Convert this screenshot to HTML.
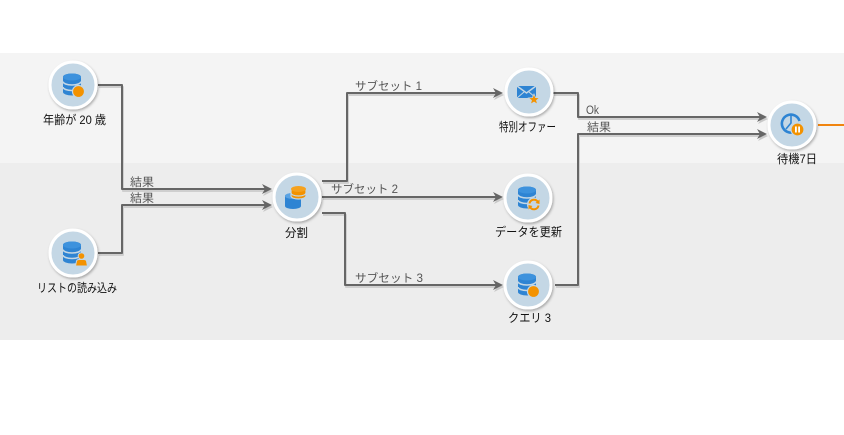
<!DOCTYPE html>
<html><head><meta charset="utf-8">
<style>
html,body{margin:0;padding:0;background:#fff;}
body{width:844px;height:435px;overflow:hidden;}
svg{display:block;}
text{font-family:"Liberation Sans","Noto Sans CJK JP",sans-serif;}
.nl{font-size:12px;fill:#111;}
.cl{font-size:11.5px;fill:#555;}
</style></head>
<body>
<svg width="844" height="435" viewBox="0 0 844 435" xmlns="http://www.w3.org/2000/svg">
<defs>
<filter id="sh" x="-30%" y="-30%" width="160%" height="160%">
<feDropShadow dx="1" dy="1.5" stdDeviation="1.2" flood-color="#000" flood-opacity="0.3"/>
</filter>
<g id="node">
<circle r="23" fill="#c4d7e5" stroke="#fff" stroke-width="3" filter="url(#sh)"/>
</g>
<g id="db">
<path d="M-10,-8 A9,3.5 0 0 1 8,-8 L8,7 A9,3.5 0 0 1 -10,7 Z" fill="#2e84d3"/>
<ellipse cx="-1" cy="-8" rx="9" ry="3.5" fill="#3d92dd"/>
<path d="M-10,-3.5 A9,3.5 0 0 0 8,-3.5" fill="none" stroke="#c4d7e5" stroke-width="1.6"/>
<path d="M-10,2 A9,3.5 0 0 0 8,2" fill="none" stroke="#c4d7e5" stroke-width="1.6"/>
</g>
<g id="arr">
<polygon points="0,0 -10,-5 -7,0 -10,5" fill="#666"/>
</g>
<g id="arrs">
<polygon points="0,0 -10,-5 -7,0 -10,5" fill="#c8c8c8"/>
</g>
</defs>

<!-- bands -->
<rect x="0" y="53" width="844" height="110" fill="#f4f4f4"/>
<rect x="0" y="163" width="844" height="177" fill="#ededed"/>

<!-- connector shadows -->
<g fill="none" stroke="#cfcfcf" stroke-width="2" transform="translate(1,2)" stroke-linejoin="round">
<path d="M98,85 H122 V189 H265"/>
<path d="M98,253 H122 V205 H265"/>
<path d="M322,181 H347 V93 H496"/>
<path d="M322,197 H496"/>
<path d="M322,213 H345 V285 H496"/>
<path d="M553,93 H578 V117 H760"/>
<path d="M555,285 H578 V134 H760"/>
</g>
<use href="#arrs" x="273" y="191"/>
<use href="#arrs" x="273" y="207"/>
<use href="#arrs" x="504" y="95"/>
<use href="#arrs" x="504" y="199"/>
<use href="#arrs" x="504" y="287"/>
<use href="#arrs" x="768" y="119"/>
<use href="#arrs" x="768" y="136"/>

<!-- connectors -->
<g fill="none" stroke="#666" stroke-width="2" stroke-linejoin="round">
<path d="M98,85 H122 V189 H265"/>
<path d="M98,253 H122 V205 H265"/>
<path d="M322,181 H347 V93 H496"/>
<path d="M322,197 H496"/>
<path d="M322,213 H345 V285 H496"/>
<path d="M553,93 H578 V117 H760"/>
<path d="M555,285 H578 V134 H760"/>
</g>
<use href="#arr" x="272" y="189"/>
<use href="#arr" x="272" y="205"/>
<use href="#arr" x="503" y="93"/>
<use href="#arr" x="503" y="197"/>
<use href="#arr" x="503" y="285"/>
<use href="#arr" x="767" y="117"/>
<use href="#arr" x="767" y="134"/>

<!-- orange outgoing -->
<line x1="818" y1="125" x2="844" y2="125" stroke="#f0840f" stroke-width="2"/>

<!-- connector labels -->
<text class="cl" x="130" y="186" textLength="24" lengthAdjust="spacingAndGlyphs">結果</text>
<text class="cl" x="130" y="202" textLength="24" lengthAdjust="spacingAndGlyphs">結果</text>
<text class="cl" x="355" y="90" textLength="67" lengthAdjust="spacingAndGlyphs">サブセット 1</text>
<text class="cl" x="331" y="193" textLength="67" lengthAdjust="spacingAndGlyphs">サブセット 2</text>
<text class="cl" x="355" y="282" textLength="68" lengthAdjust="spacingAndGlyphs">サブセット 3</text>
<text class="cl" x="586" y="114" textLength="13" lengthAdjust="spacingAndGlyphs">Ok</text>
<text class="cl" x="587" y="131" textLength="24" lengthAdjust="spacingAndGlyphs">結果</text>

<!-- Node 1: 年齢が 20 歳 -->
<g transform="translate(73,85)">
<use href="#node"/>
<use href="#db"/>
<circle cx="5.5" cy="6.5" r="6" fill="#f39200" stroke="#c4d7e5" stroke-width="1.2"/>
</g>
<text class="nl" x="43" y="124" textLength="63" lengthAdjust="spacingAndGlyphs">年齢が 20 歳</text>

<!-- Node 2: リストの読み込み -->
<g transform="translate(73,253)">
<use href="#node"/>
<use href="#db"/>
<path d="M2.5,13 L3.5,8 Q4,6.5 6,6.5 L11,6.5 Q13,6.5 13.5,8 L14.5,13 Z" fill="#f39200" stroke="#c4d7e5" stroke-width="1"/>
<circle cx="8.5" cy="3" r="3.3" fill="#f39200" stroke="#c4d7e5" stroke-width="1"/>
</g>
<text class="nl" x="37" y="292" textLength="80" lengthAdjust="spacingAndGlyphs">リストの読み込み</text>

<!-- Split node -->
<g transform="translate(297,197)">
<use href="#node"/>
<path d="M-12,-1 A8,3 0 0 1 4,-1 L4,9 A8,3 0 0 1 -12,9 Z" fill="#2e84d3"/>
<ellipse cx="-4" cy="-1" rx="8" ry="3" fill="#5aa3e3"/>
<path d="M-6,-8 A7.5,3 0 0 1 9,-8 L9,-1 A7.5,3 0 0 1 -6,-1 Z" fill="#f39200" stroke="#c4d7e5" stroke-width="1.2"/>
<ellipse cx="1.5" cy="-8" rx="7.5" ry="3" fill="#f6a21e"/>
<path d="M-6,-4 A7.5,3 0 0 0 9,-4" fill="none" stroke="#c4d7e5" stroke-width="1.2"/>
</g>
<text class="nl" x="285" y="237" textLength="23" lengthAdjust="spacingAndGlyphs">分割</text>

<!-- 特別オファー -->
<g transform="translate(529,92)">
<use href="#node"/>
<rect x="-12" y="-6" width="19" height="12" fill="#2e84d3"/>
<path d="M-12,-6 L-2.5,1 L7,-6" fill="none" stroke="#c4d7e5" stroke-width="1.5"/>
<path d="M-12,6 L-5,0 M7,6 L0,0" fill="none" stroke="#c4d7e5" stroke-width="1"/>
<polygon points="5,2 6.6,5.6 10.5,5.9 7.5,8.4 8.5,12.2 5,10.1 1.5,12.2 2.5,8.4 -0.5,5.9 3.4,5.6" fill="#f39200" stroke="#c4d7e5" stroke-width="0.8"/>
</g>
<text class="nl" x="499" y="131" textLength="57" lengthAdjust="spacingAndGlyphs">特別オファー</text>

<!-- データを更新 -->
<g transform="translate(528,198)">
<use href="#node"/>
<use href="#db"/>
<circle cx="6" cy="6.5" r="7" fill="#c4d7e5"/>
<path d="M1.5,5.5 A4.6,4.6 0 0 1 10,4" fill="none" stroke="#f39200" stroke-width="2"/>
<polygon points="11.5,1.5 11.5,6 7.5,5" fill="#f39200"/>
<path d="M10.5,7.5 A4.6,4.6 0 0 1 2,9" fill="none" stroke="#f39200" stroke-width="2"/>
<polygon points="0.5,11.5 0.5,7 4.5,8" fill="#f39200"/>
</g>
<text class="nl" x="495" y="236" textLength="67" lengthAdjust="spacingAndGlyphs">データを更新</text>

<!-- クエリ 3 -->
<g transform="translate(528,285)">
<use href="#node"/>
<use href="#db"/>
<circle cx="5.5" cy="6.5" r="6" fill="#f39200" stroke="#c4d7e5" stroke-width="1.2"/>
</g>
<text class="nl" x="508" y="322" textLength="43" lengthAdjust="spacingAndGlyphs">クエリ 3</text>

<!-- 待機7日 -->
<g transform="translate(792,125)">
<use href="#node"/>
<path d="M4,6 A9,9 0 1 1 7.5,-4" fill="none" stroke="#2e84d3" stroke-width="2.6"/>
<path d="M-1,-11 L-1,-2 L-6,4" fill="none" stroke="#2e84d3" stroke-width="1.6"/>
<circle cx="5.5" cy="4.5" r="6.5" fill="#f39200" stroke="#c4d7e5" stroke-width="1.2"/>
<rect x="3" y="1.5" width="1.8" height="6" fill="#fff"/>
<rect x="6.2" y="1.5" width="1.8" height="6" fill="#fff"/>
</g>
<text class="nl" x="777" y="163" textLength="40" lengthAdjust="spacingAndGlyphs">待機7日</text>
</svg>
</body></html>
